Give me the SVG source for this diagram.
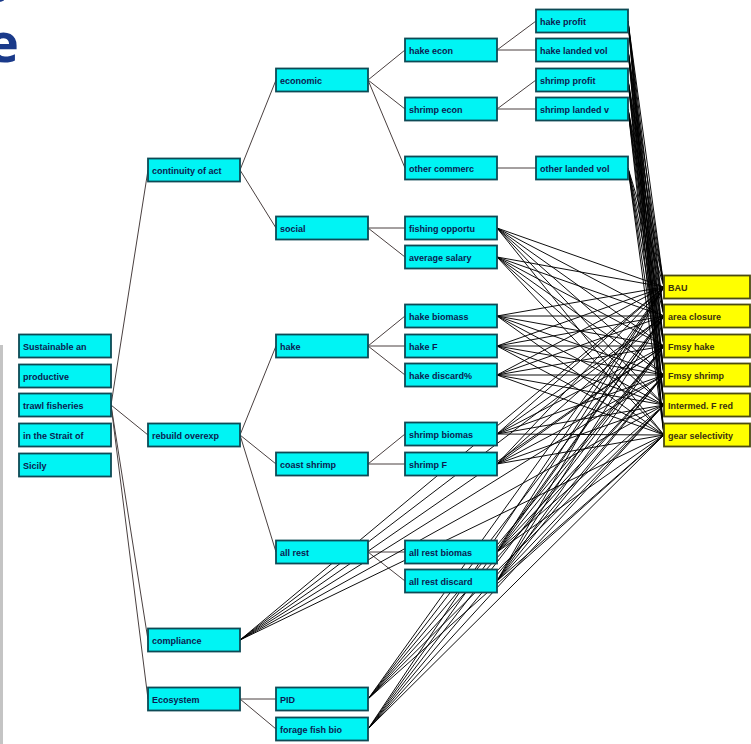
<svg xmlns="http://www.w3.org/2000/svg" width="751" height="744" viewBox="0 0 751 744">
<style>
.n rect{fill:#00f4f4;stroke:#0d4a55;stroke-width:1.8}
.y rect{fill:#ffff00;stroke:#4a4a10;stroke-width:1.8}
text.l{font-family:"Liberation Sans",Arial,sans-serif;font-size:9px;font-weight:bold;fill:#0c1a50}
.y text.l{fill:#3a3010}
.tree path{stroke:#4a4040;stroke-width:1;fill:none}
.links path{stroke:#000;stroke-width:0.95;fill:none}
.ttl{font-family:"Open Sans","Liberation Sans",sans-serif;font-weight:bold;font-size:54px;fill:#1a3a8a}
</style>
<rect x="0" y="0" width="751" height="744" fill="#ffffff"/>
<text class="ttl" x="8" y="2" text-anchor="end">e</text>
<text class="ttl" x="19" y="62" text-anchor="end">e</text>
<line x1="1.5" y1="345" x2="1.5" y2="744" stroke="#c4c4c4" stroke-width="3"/>

<g id="connectors">
<g class="tree">
<path d="M111 405L148 170M111 405L148 435M111 405L148 640M111 405L148 699"/>
<path d="M240 170L276 80M240 170L276 228"/>
<path d="M240 435L276 346M240 435L276 464M240 435L276 552"/>
<path d="M240 699L276 699M240 699L276 729"/>
<path d="M368 80L405 50M368 80L405 109M368 80L405 168"/>
<path d="M368 228L405 228M368 228L405 257"/>
<path d="M368 346L405 316M368 346L405 346M368 346L405 375"/>
<path d="M368 464L405 434M368 464L405 464"/>
<path d="M368 552L405 552M368 552L405 581"/>
<path d="M497 50L536 21M497 50L536 50"/>
<path d="M497 109L536 80M497 109L536 109"/>
<path d="M497 168L536 168"/>
</g>
<g class="links">
<path d="M628 21L664 287M628 21L664 316M628 21L664 346M628 21L664 375M628 21L664 405M628 21L664 435"/>
<path d="M628 50L664 287M628 50L664 316M628 50L664 346M628 50L664 375M628 50L664 405M628 50L664 435"/>
<path d="M628 80L664 287M628 80L664 316M628 80L664 346M628 80L664 375M628 80L664 405M628 80L664 435"/>
<path d="M628 109L664 287M628 109L664 316M628 109L664 346M628 109L664 375M628 109L664 405M628 109L664 435"/>
<path d="M628 168L664 287M628 168L664 316M628 168L664 346M628 168L664 375M628 168L664 405M628 168L664 435"/>
<path d="M497 228L664 287M497 228L664 316M497 228L664 346M497 228L664 375M497 228L664 405M497 228L664 435"/>
<path d="M497 257L664 287M497 257L664 316M497 257L664 346M497 257L664 375M497 257L664 405M497 257L664 435"/>
<path d="M497 316L664 287M497 316L664 316M497 316L664 346M497 316L664 375M497 316L664 405M497 316L664 435"/>
<path d="M497 346L664 287M497 346L664 316M497 346L664 346M497 346L664 375M497 346L664 405M497 346L664 435"/>
<path d="M497 375L664 287M497 375L664 316M497 375L664 346M497 375L664 375M497 375L664 405M497 375L664 435"/>
<path d="M497 434L664 287M497 434L664 316M497 434L664 346M497 434L664 375M497 434L664 405M497 434L664 435"/>
<path d="M497 464L664 287M497 464L664 316M497 464L664 346M497 464L664 375M497 464L664 405M497 464L664 435"/>
<path d="M497 552L664 287M497 552L664 316M497 552L664 346M497 552L664 375M497 552L664 405M497 552L664 435"/>
<path d="M497 581L664 287M497 581L664 316M497 581L664 346M497 581L664 375M497 581L664 405M497 581L664 435"/>
<path d="M240 640L664 287M240 640L664 316M240 640L664 346M240 640L664 375M240 640L664 405M240 640L664 435"/>
<path d="M368 699L664 287M368 699L664 316M368 699L664 346M368 699L664 375M368 699L664 405M368 699L664 435"/>
<path d="M368 729L664 287M368 729L664 316M368 729L664 346M368 729L664 375M368 729L664 405M368 729L664 435"/>
</g>
</g>

<g id="root1" class="n"><rect x="19" y="334.5" width="92" height="23"/><text class="l" x="23" y="349.5">Sustainable an</text></g>
<g id="root2" class="n"><rect x="19" y="364.5" width="92" height="23"/><text class="l" x="23" y="379.5">productive</text></g>
<g id="root3" class="n"><rect x="19" y="393.5" width="92" height="23"/><text class="l" x="23" y="408.5">trawl fisheries</text></g>
<g id="root4" class="n"><rect x="19" y="423.5" width="92" height="23"/><text class="l" x="23" y="438.5">in the Strait of</text></g>
<g id="root5" class="n"><rect x="19" y="453.5" width="92" height="23"/><text class="l" x="23" y="468.5">Sicily</text></g>

<g id="continuity" class="n"><rect x="148" y="158.5" width="92" height="23"/><text class="l" x="152" y="173.5">continuity of act</text></g>
<g id="rebuild" class="n"><rect x="148" y="423.5" width="92" height="23"/><text class="l" x="152" y="438.5">rebuild overexp</text></g>
<g id="compliance" class="n"><rect x="148" y="628.5" width="92" height="23"/><text class="l" x="152" y="643.5">compliance</text></g>
<g id="ecosystem" class="n"><rect x="148" y="687.5" width="92" height="23"/><text class="l" x="152" y="702.5">Ecosystem</text></g>

<g id="economic" class="n"><rect x="276" y="68.5" width="92" height="23"/><text class="l" x="280" y="83.5">economic</text></g>
<g id="social" class="n"><rect x="276" y="216.5" width="92" height="23"/><text class="l" x="280" y="231.5">social</text></g>
<g id="hake" class="n"><rect x="276" y="334.5" width="92" height="23"/><text class="l" x="280" y="349.5">hake</text></g>
<g id="coast-shrimp" class="n"><rect x="276" y="452.5" width="92" height="23"/><text class="l" x="280" y="467.5">coast shrimp</text></g>
<g id="all-rest" class="n"><rect x="276" y="540.5" width="92" height="23"/><text class="l" x="280" y="555.5">all rest</text></g>
<g id="pid" class="n"><rect x="276" y="687.5" width="92" height="23"/><text class="l" x="280" y="702.5">PID</text></g>
<g id="forage" class="n"><rect x="276" y="717.5" width="92" height="23"/><text class="l" x="280" y="732.5">forage fish bio</text></g>

<g id="hake-econ" class="n"><rect x="405" y="38.5" width="92" height="23"/><text class="l" x="409" y="53.5">hake econ</text></g>
<g id="shrimp-econ" class="n"><rect x="405" y="97.5" width="92" height="23"/><text class="l" x="409" y="112.5">shrimp econ</text></g>
<g id="other-commerc" class="n"><rect x="405" y="156.5" width="92" height="23"/><text class="l" x="409" y="171.5">other commerc</text></g>
<g id="fishing-opportu" class="n"><rect x="405" y="216.5" width="92" height="23"/><text class="l" x="409" y="231.5">fishing opportu</text></g>
<g id="average-salary" class="n"><rect x="405" y="245.5" width="92" height="23"/><text class="l" x="409" y="260.5">average salary</text></g>
<g id="hake-biomass" class="n"><rect x="405" y="304.5" width="92" height="23"/><text class="l" x="409" y="319.5">hake biomass</text></g>
<g id="hake-f" class="n"><rect x="405" y="334.5" width="92" height="23"/><text class="l" x="409" y="349.5">hake F</text></g>
<g id="hake-discard" class="n"><rect x="405" y="363.5" width="92" height="23"/><text class="l" x="409" y="378.5">hake discard%</text></g>
<g id="shrimp-biomas" class="n"><rect x="405" y="422.5" width="92" height="23"/><text class="l" x="409" y="437.5">shrimp biomas</text></g>
<g id="shrimp-f" class="n"><rect x="405" y="452.5" width="92" height="23"/><text class="l" x="409" y="467.5">shrimp F</text></g>
<g id="all-rest-biomas" class="n"><rect x="405" y="540.5" width="92" height="23"/><text class="l" x="409" y="555.5">all rest biomas</text></g>
<g id="all-rest-discard" class="n"><rect x="405" y="569.5" width="92" height="23"/><text class="l" x="409" y="584.5">all rest discard</text></g>

<g id="hake-profit" class="n"><rect x="536" y="9.5" width="92" height="23"/><text class="l" x="540" y="24.5">hake profit</text></g>
<g id="hake-landed" class="n"><rect x="536" y="38.5" width="92" height="23"/><text class="l" x="540" y="53.5">hake landed vol</text></g>
<g id="shrimp-profit" class="n"><rect x="536" y="68.5" width="92" height="23"/><text class="l" x="540" y="83.5">shrimp profit</text></g>
<g id="shrimp-landed" class="n"><rect x="536" y="97.5" width="92" height="23"/><text class="l" x="540" y="112.5">shrimp landed v</text></g>
<g id="other-landed" class="n"><rect x="536" y="156.5" width="92" height="23"/><text class="l" x="540" y="171.5">other landed vol</text></g>

<g id="bau" class="y"><rect x="664" y="275.5" width="86" height="23"/><text class="l" x="668" y="290.5">BAU</text></g>
<g id="area-closure" class="y"><rect x="664" y="304.5" width="86" height="23"/><text class="l" x="668" y="319.5">area closure</text></g>
<g id="fmsy-hake" class="y"><rect x="664" y="334.5" width="86" height="23"/><text class="l" x="668" y="349.5">Fmsy hake</text></g>
<g id="fmsy-shrimp" class="y"><rect x="664" y="363.5" width="86" height="23"/><text class="l" x="668" y="378.5">Fmsy shrimp</text></g>
<g id="intermed" class="y"><rect x="664" y="393.5" width="86" height="23"/><text class="l" x="668" y="408.5">Intermed. F red</text></g>
<g id="gear" class="y"><rect x="664" y="423.5" width="86" height="23"/><text class="l" x="668" y="438.5">gear selectivity</text></g>
</svg>
